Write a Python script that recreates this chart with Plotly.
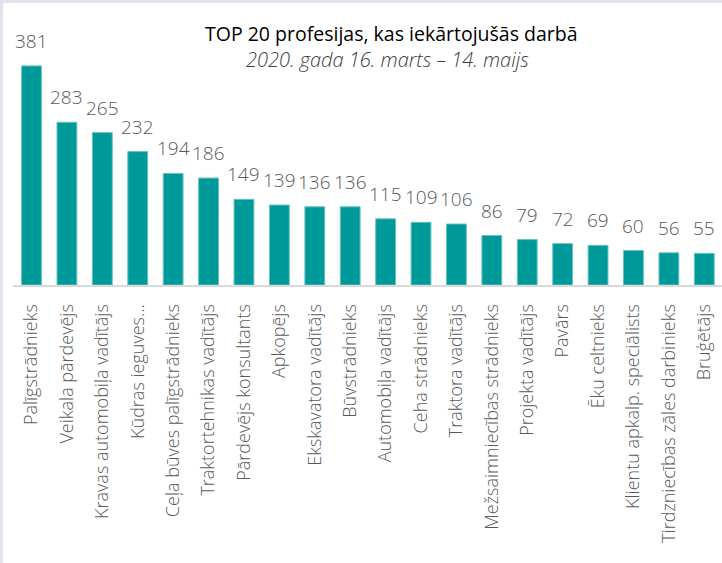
import plotly.graph_objects as go

categories = ["Palīgstrādnieks", "Veikala pārdevējs", "Kravas automobiļa vadītājs", "Kūdras ieguves…",
              "Ceļa būves palīgstrādnieks", "Traktortehnikas vadītājs", "Pārdevējs konsultants", "Apkopējs",
              "Ekskavatora vadītājs", "Būvstrādnieks", "Automobiļa vadītājs", "Ceha strādnieks",
              "Traktora vadītājs", "Mežsaimniecības strādnieks", "Projekta vadītājs", "Pavārs",
              "Ēku celtnieks", "Klientu apkalp. speciālists", "Tirdzniecības zāles darbinieks", "Bruģētājs"]
values = [381, 283, 265, 232, 194, 186, 149, 139, 136, 136, 115, 109, 106, 86, 79, 72, 69, 60, 56, 55]

title = "TOP 20 profesijas, kas iekārtojušās darbā"
subtitle = "2020. gada 16. marts – 14. maijs"

W, H = 722, 563
ML, MR, MT, MB = 13, 0, 55, 278
pw = W - ML - MR
ph = H - MT - MB


def py(ypix):
    return (H - MB - ypix) / ph


fig = go.Figure()
fig.add_trace(go.Bar(
    x=categories, y=values,
    marker=dict(color="#009999", line=dict(color="#66c2c2", width=1)),
    hoverinfo="x+y", cliponaxis=False,
))

for c, v in zip(categories, values):
    fig.add_annotation(x=c, y=v, text=str(v), showarrow=False, yanchor="bottom", yshift=10,
                       font=dict(family="Open Sans", size=19, color="#595959", weight=300))

fig.add_annotation(x=(392 - ML) / pw, y=py(33), xref="paper", yref="paper", text=title, showarrow=False,
                   font=dict(family="Open Sans", size=19.5, color="#000000"), xanchor="center", yanchor="middle")
fig.add_annotation(x=(388 - ML) / pw, y=py(59), xref="paper", yref="paper", text="<i>" + subtitle + "</i>",
                   showarrow=False, font=dict(family="Open Sans", size=20, color="#404040", weight=300),
                   xanchor="center", yanchor="middle")

fig.add_shape(type="rect", xref="paper", yref="paper", x0=-ML / pw, x1=-(ML - 3) / pw, y0=py(H), y1=py(0),
              fillcolor="#e4e0ee", line=dict(width=0), layer="above")
fig.add_shape(type="rect", xref="paper", yref="paper", x0=-ML / pw, x1=(W - ML) / pw, y0=py(3), y1=py(0),
              fillcolor="#e4e0ee", line=dict(width=0), layer="above")

fig.update_layout(
    width=W, height=H,
    margin=dict(l=ML, r=MR, t=MT, b=MB, autoexpand=False),
    paper_bgcolor="white", plot_bgcolor="white",
    bargap=0.44,
    showlegend=False,
    xaxis=dict(tickangle=-90, showline=True, linecolor="#d9d9d9", linewidth=2,
               tickfont=dict(family="Open Sans", size=18, color="#595959", weight=300),
               ticks="", ticklabelstandoff=10, showgrid=False, fixedrange=True, automargin=False),
    yaxis=dict(range=[0, 400], visible=False, showgrid=False, fixedrange=True, automargin=False),
)

fig.write_html("out.html", config={"displayModeBar": False},
               post_script="document.body.style.margin='0px';document.body.style.overflow='hidden';")
